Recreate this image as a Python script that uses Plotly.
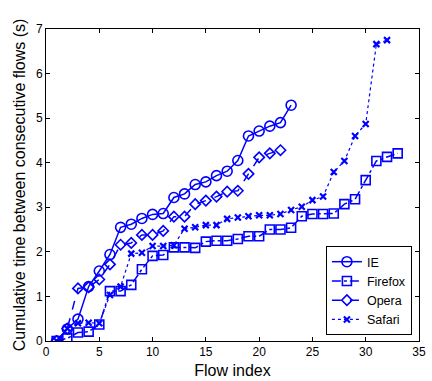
import plotly.graph_objects as go

ie = [0, 0.27, 0.49, 1.22, 1.57, 1.94, 2.55, 2.62, 2.75, 2.84, 2.86, 3.22, 3.30, 3.51,
      3.57, 3.71, 3.81, 4.05, 4.60, 4.71, 4.82, 4.90, 5.29]
firefox = [0, 0.06, 0.19, 0.21, 0.37, 1.12, 1.12, 1.26, 1.61, 1.91, 1.93, 2.10, 2.10,
           2.09, 2.23, 2.25, 2.25, 2.29, 2.35, 2.35, 2.50, 2.50, 2.54, 2.80, 2.85, 2.85,
           2.86, 3.07, 3.18, 3.61, 4.04, 4.13, 4.21]
opera = [0, 0.28, 1.18, 1.21, 1.38, 1.72, 2.16, 2.20, 2.38, 2.38, 2.47, 2.79, 2.79,
         3.07, 3.15, 3.24, 3.35, 3.37, 3.75, 4.12, 4.21, 4.28]
safari = [0, 0.28, 0.40, 0.41, 0.40, 1.03, 1.22, 1.96, 1.98, 2.13, 2.13, 2.15, 2.52,
          2.55, 2.60, 2.60, 2.74, 2.77, 2.80, 2.82, 2.82, 2.85, 2.94, 3.01, 3.16, 3.24,
          3.79, 4.04, 4.60, 4.87, 6.66, 6.75]

x_ticks = [0, 5, 10, 15, 20, 25, 30, 35]
y_ticks = [0, 1, 2, 3, 4, 5, 6, 7]

BLUE = "rgb(0,0,255)"
series = [
    ("IE", ie, "solid", "circle-open", 10),
    ("Firefox", firefox, "dashdot", "square-open", 9),
    ("Opera", opera, "dash", "diamond-open", 8),
    ("Safari", safari, "dot", "x-thin-open", 6),
]

fig = go.Figure()
for name, vals, dash, sym, size in series:
    fig.add_trace(go.Scatter(
        x=list(range(1, len(vals) + 1)), y=vals, name=name, mode="lines+markers",
        line=dict(color=BLUE, width=1.5 if dash != "dot" else 1.2, dash=dash),
        marker=dict(symbol=sym, size=size, color=BLUE,
                    line=dict(color=BLUE, width=1.6 if sym != "x-thin-open" else 2.2)),
    ))

axis_common = dict(showline=True, linecolor="black", linewidth=1, mirror="ticks",
                   ticks="inside", ticklen=4, tickcolor="black", showgrid=False,
                   zeroline=False, automargin=False,
                   tickfont=dict(size=12, color="black"))

fig.update_layout(
    width=432, height=381,
    margin=dict(l=46, r=13, t=29, b=40),
    paper_bgcolor="white", plot_bgcolor="white",
    font=dict(family="Liberation Sans, Arial, sans-serif", color="black"),
    xaxis=dict(range=[0, 35], tickvals=x_ticks,
               title=dict(text="Flow index", font=dict(size=16), standoff=6), **axis_common),
    yaxis=dict(range=[0, 7], tickvals=y_ticks,
               title=dict(text="Cumulative time between consecutive flows (s)",
                          font=dict(size=16), standoff=6), **axis_common),
    legend=dict(x=0.981, y=0.019, xanchor="right", yanchor="bottom",
                bordercolor="black", borderwidth=1, bgcolor="white",
                font=dict(size=12.5), tracegroupgap=0, itemwidth=30),
    showlegend=True,
)

fig.write_html("out.html")
